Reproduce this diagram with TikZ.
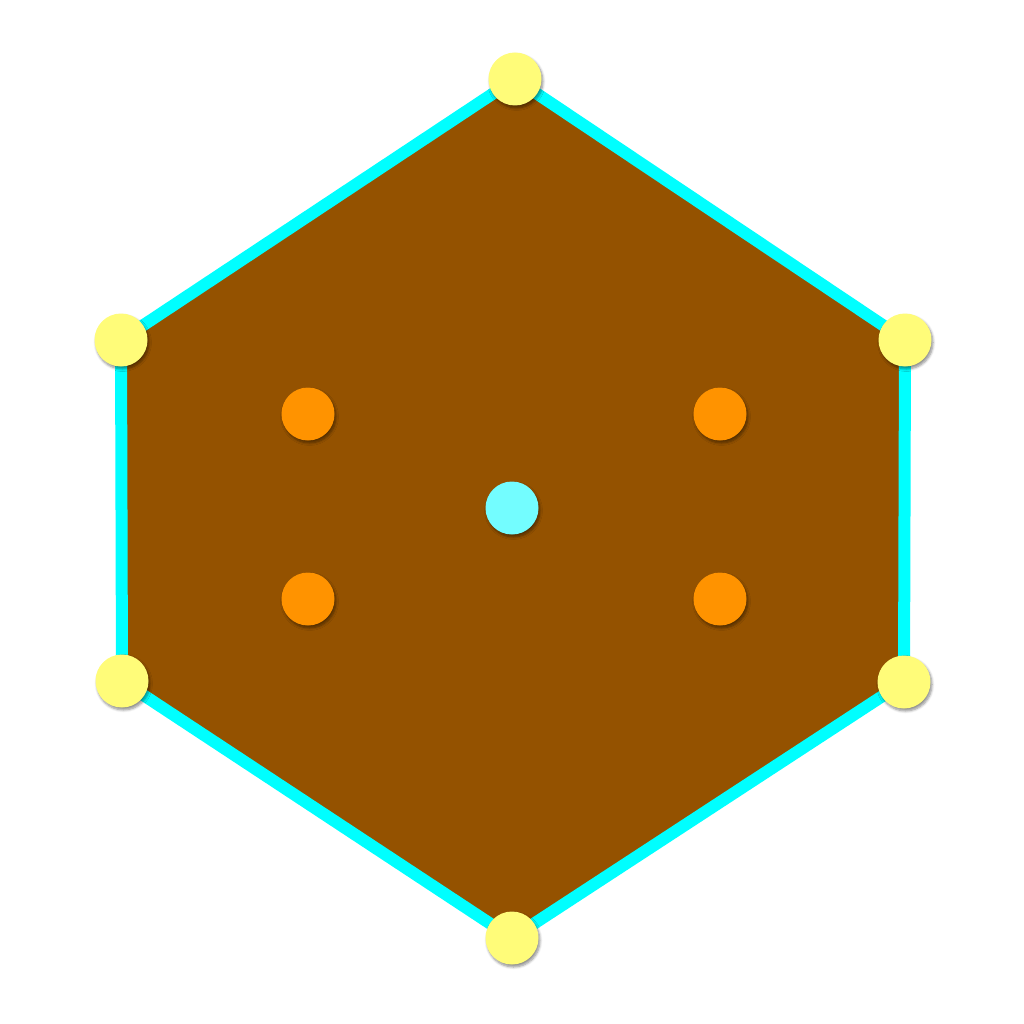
\documentclass[tikz,border=0pt]{standalone}
\usetikzlibrary{shadows.blur}
\definecolor{mocha}{HTML}{945200}
\definecolor{aquaedge}{HTML}{00FFFF}
\definecolor{banana}{HTML}{FFFC79}
\definecolor{tangerine}{HTML}{FF9300}
\definecolor{ice}{HTML}{73FDFF}
\tikzset{
  dot/.style={circle, inner sep=0pt, minimum size=53pt, draw=none,
    blur shadow={shadow xshift=1.5pt, shadow yshift=-2.5pt, shadow blur steps=6, shadow blur radius=2.5pt, shadow opacity=45}},
  vdot/.style={dot, fill=banana},
  odot/.style={dot, fill=tangerine},
  cdot/.style={dot, fill=ice},
  hexedge/.style={draw=aquaedge, line width=12pt, fill=mocha, line join=miter}
}
\begin{document}
\begin{tikzpicture}[x=1pt,y=-1pt]
\useasboundingbox (0,0) rectangle (1024,1024);
\coordinate (p1) at (515,79);
\coordinate (p2) at (905,340);
\coordinate (p3) at (904,682);
\coordinate (p4) at (512,938);
\coordinate (p5) at (122,681);
\coordinate (p6) at (121,340);
\path[hexedge] (p1) -- (p2) -- (p3) -- (p4) -- (p5) -- (p6) -- cycle;
\node[odot] (o1) at (308,414) {};
\node[odot] (o2) at (720,414) {};
\node[odot] (o3) at (308,599) {};
\node[odot] (o4) at (720,599) {};
\node[cdot] (c) at (512,508) {};
\foreach \i in {1,...,6} \node[vdot] (v\i) at (p\i) {};
\end{tikzpicture}
\end{document}
